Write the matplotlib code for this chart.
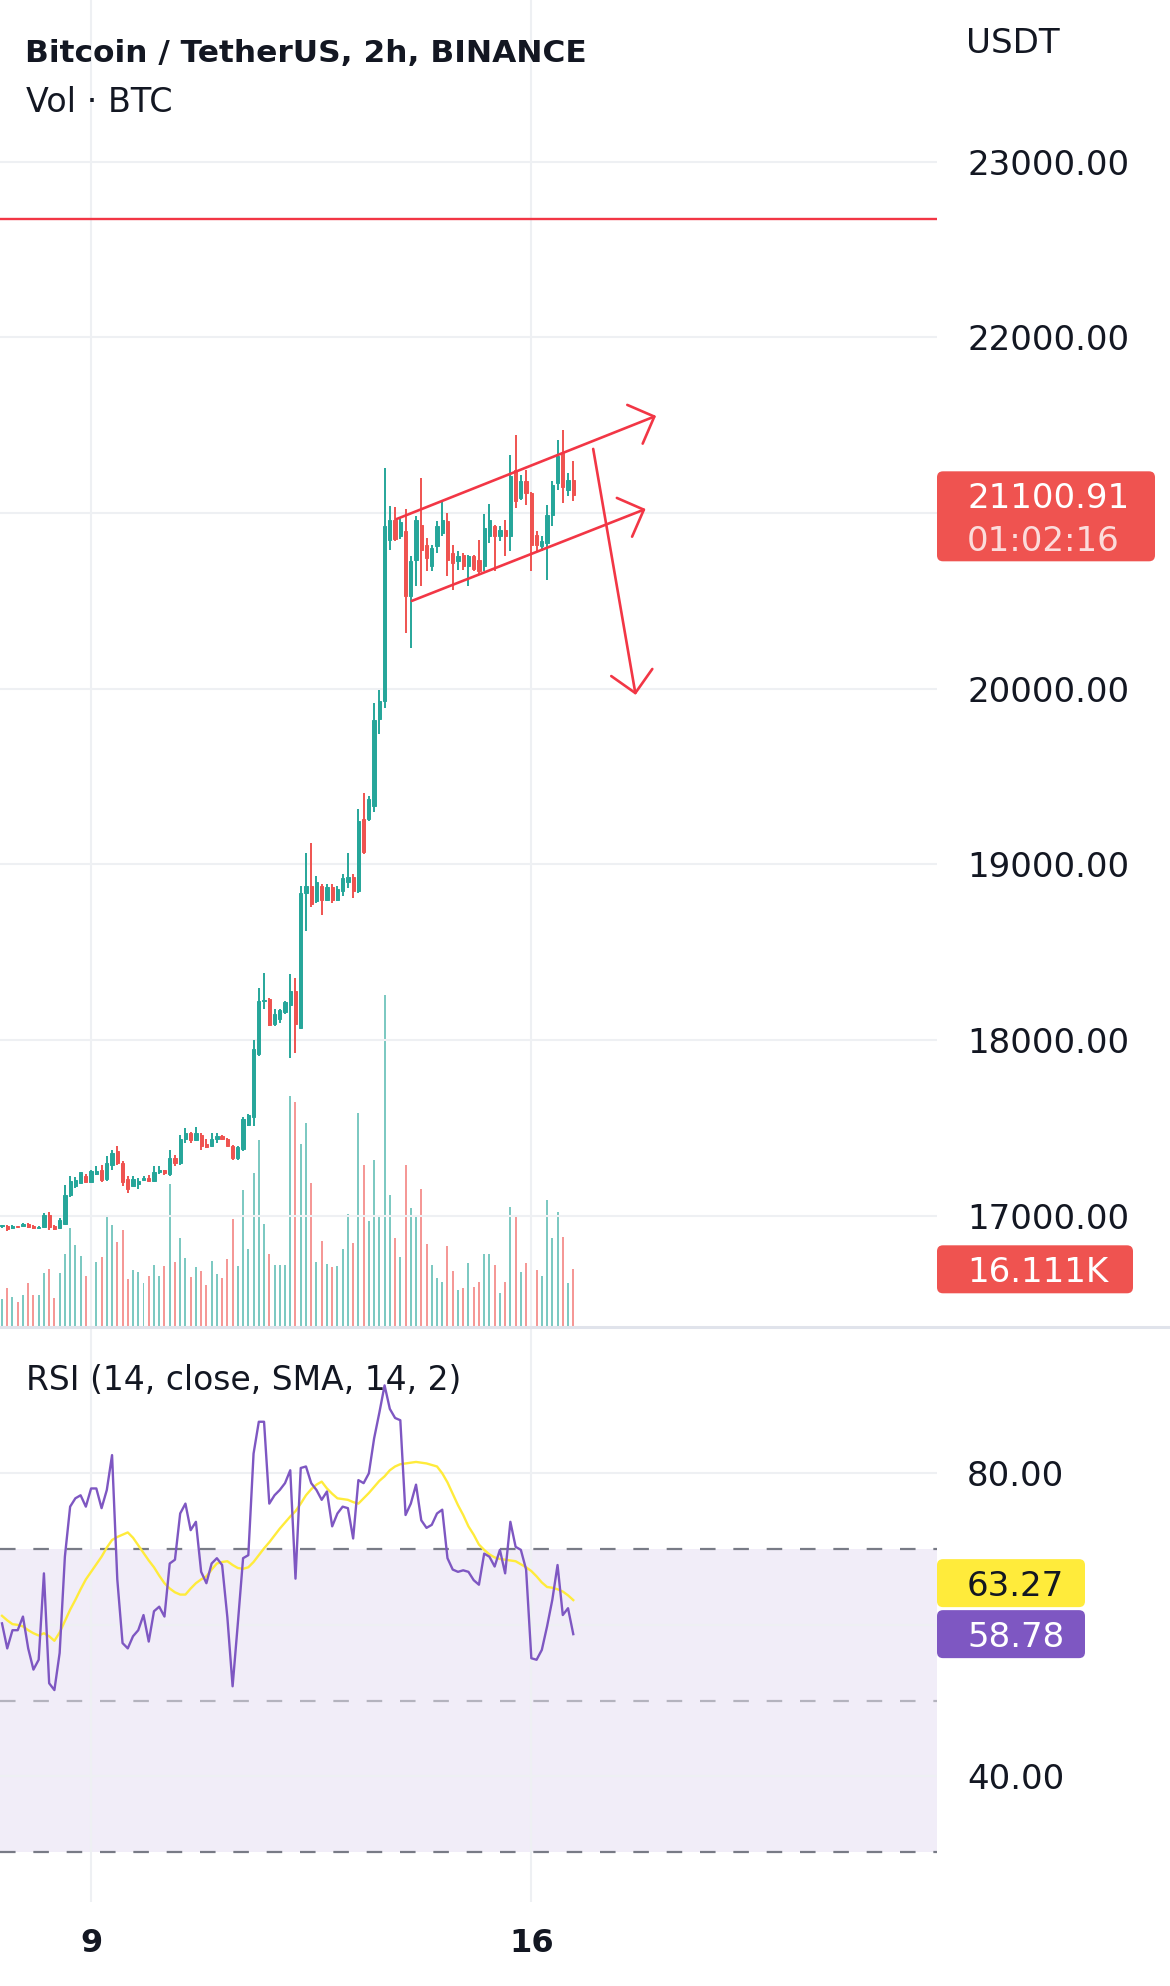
import numpy as np
import pandas as pd
import matplotlib
matplotlib.use("Agg")
import matplotlib.pyplot as plt
import matplotlib.dates as mdates
from matplotlib.patches import FancyBboxPatch
from matplotlib.lines import Line2D
from matplotlib.transforms import IdentityTransform

# ── Data: BTC/USDT 2h candles, 7 Jan 14:00 -> 16 Jan 16:00 ───────────────
times = pd.date_range("2023-01-07 14:00", periods=110, freq="2h")

opens = [
    16940, 16945, 16930, 16942, 16940, 16954, 16945, 16930, 16936, 17005,
    16943, 16930, 16955, 17120, 17170, 17185, 17225, 17195, 17240, 17260,
    17210, 17290, 17370, 17300, 17210, 17170, 17180, 17205, 17215, 17200,
    17250, 17260, 17240, 17330, 17300, 17440, 17470, 17430, 17460, 17410,
    17395, 17440, 17455, 17440, 17400, 17330, 17380, 17515, 17560, 17920,
    18220, 18232, 18090, 18120, 18160, 18200, 18280, 18070, 18840, 18880,
    18790, 18880, 18800, 18870, 18795, 18850, 18900, 18930, 18850, 19256,
    19256, 19330, 19830, 19930, 20848, 20960, 20870, 20896, 20526, 20734,
    20933, 20820, 20700, 20810, 20886, 20953, 20772, 20725, 20760, 20696,
    20753, 20735, 20696, 20867, 20924, 20867, 20905, 20867, 21246, 21085,
    21180, 21114, 20877, 20810, 20829, 20990, 21170, 21341, 21133, 21190,
]
highs = [
    16950, 16950, 16948, 16945, 16958, 16962, 16948, 16940, 17015, 17020,
    16948, 16987, 17176, 17224, 17220, 17252, 17240, 17262, 17281, 17290,
    17338, 17376, 17395, 17310, 17224, 17224, 17214, 17227, 17230, 17281,
    17281, 17262, 17376, 17347, 17461, 17499, 17480, 17508, 17470, 17440,
    17470, 17470, 17461, 17442, 17404, 17395, 17565, 17580, 18000, 18298,
    18383, 18241, 18175, 18175, 18222, 18374, 18355, 18877, 19063, 19123,
    18934, 18886, 18886, 18886, 18877, 18943, 19063, 18943, 19313, 19408,
    19390, 19918, 19994, 21256, 21042, 21034, 20970, 21023, 20753, 20981,
    21199, 20858, 20820, 20953, 21076, 21000, 20820, 20782, 20772, 20763,
    20763, 20848, 20994, 21053, 20934, 20924, 20962, 21332, 21446, 21218,
    21246, 21120, 20896, 20867, 21047, 21180, 21417, 21474, 21227, 21294,
]
lows = [
    16930, 16915, 16925, 16932, 16935, 16930, 16925, 16925, 16930, 16920,
    16920, 16926, 16950, 17110, 17160, 17180, 17185, 17190, 17232, 17195,
    17200, 17262, 17290, 17167, 17130, 17167, 17150, 17200, 17195, 17195,
    17240, 17235, 17224, 17281, 17290, 17414, 17414, 17425, 17376, 17385,
    17390, 17415, 17432, 17395, 17320, 17320, 17370, 17510, 17510, 17909,
    18175, 18080, 18080, 18100, 18150, 17900, 17928, 18061, 18621, 18760,
    18782, 18715, 18791, 18782, 18791, 18820, 18867, 18810, 18839, 19060,
    19250, 19300, 19740, 19890, 20791, 20840, 20850, 20317, 20232, 20583,
    20583, 20668, 20668, 20772, 20867, 20640, 20564, 20678, 20678, 20583,
    20668, 20649, 20668, 20829, 20668, 20839, 20753, 20782, 21028, 21076,
    21047, 20668, 20782, 20782, 20620, 20924, 21133, 21057, 21095, 21066,
]
closes = [
    16945, 16925, 16942, 16936, 16952, 16935, 16930, 16935, 17006, 16935,
    16925, 16975, 17120, 17200, 17205, 17250, 17190, 17255, 17255, 17205,
    17300, 17360, 17300, 17190, 17150, 17210, 17200, 17215, 17200, 17250,
    17260, 17245, 17330, 17300, 17440, 17470, 17430, 17470, 17400, 17390,
    17440, 17455, 17440, 17400, 17330, 17390, 17550, 17575, 17950, 18222,
    18230, 18085, 18146, 18170, 18215, 18280, 18090, 18840, 18880, 18772,
    18900, 18800, 18870, 18795, 18860, 18920, 18930, 18850, 19250, 19070,
    19370, 19820, 19930, 20924, 20962, 20850, 20950, 20526, 20725, 20962,
    20791, 20745, 20800, 20924, 20962, 20734, 20715, 20753, 20696, 20753,
    20680, 20668, 20915, 20962, 20867, 20905, 20867, 21209, 21066, 21180,
    21114, 20820, 20820, 20839, 20990, 21160, 21322, 21150, 21190, 21100.91,
]
volumes_k = [
    7.6, 10.7, 8.2, 6.8, 8.8, 12.1, 8.8, 8.8, 15.1, 16.1,
    7.9, 15.1, 20.4, 27.8, 23.0, 19.9, 14.2, 20.6, 18.2, 19.6,
    31.0, 28.7, 23.9, 27.3, 13.3, 15.8, 15.3, 12.3, 14.2, 17.3,
    14.2, 17.1, 40.4, 18.2, 25.1, 19.4, 13.9, 16.8, 15.6, 11.7,
    18.5, 14.9, 13.5, 18.9, 30.3, 17.1, 38.6, 21.8, 43.6, 52.8,
    28.9, 20.6, 17.3, 17.3, 17.3, 65.4, 63.7, 51.6, 57.7, 40.6,
    18.2, 24.2, 17.7, 16.9, 17.1, 22.0, 31.7, 23.7, 60.4, 45.8,
    29.8, 47.2, 31.0, 94.1, 37.2, 25.1, 19.6, 45.8, 33.6, 31.3,
    39.0, 23.2, 17.3, 13.7, 12.5, 22.7, 15.6, 10.2, 10.9, 17.8,
    11.1, 12.5, 20.4, 20.4, 17.3, 9.4, 12.5, 33.8, 31.3, 15.3,
    17.8, 33.6, 15.8, 14.2, 35.7, 25.1, 32.4, 25.3, 12.2, 16.111,
]
rsi = [
    60.2, 56.9, 59.3, 59.3, 61.1, 56.9, 54.1, 55.4, 66.8, 52.3,
    51.4, 56.3, 69.0, 75.6, 76.7, 77.1, 75.6, 78.0, 78.0, 75.4,
    77.8, 82.4, 66.0, 57.6, 56.9, 58.5, 59.3, 61.3, 57.8, 61.8,
    62.4, 61.1, 68.1, 68.6, 74.7, 76.0, 72.5, 73.6, 67.0, 65.5,
    68.1, 68.8, 67.9, 61.0, 51.9, 60.2, 68.8, 69.2, 82.6, 86.8,
    86.8, 76.0, 77.1, 77.8, 78.7, 80.4, 66.1, 80.7, 80.9, 78.7,
    77.8, 76.5, 77.6, 73.0, 74.7, 75.6, 75.4, 71.4, 79.1, 78.7,
    80.0, 84.6, 88.0, 91.6, 88.5, 87.3, 87.0, 74.5, 76.0, 78.5,
    73.8, 72.8, 73.2, 74.7, 75.2, 68.8, 67.3, 67.0, 67.2, 67.0,
    65.9, 65.3, 69.4, 69.0, 67.7, 69.9, 66.8, 73.6, 70.3, 69.9,
    67.3, 55.6, 55.4, 56.7, 59.8, 63.3, 67.9, 61.3, 62.2, 58.78,
]
rsi_sma = [
    61.2, 60.6, 60.1, 60.0, 59.8, 59.3, 58.9, 58.6, 58.9, 58.5,
    57.9, 59.0, 60.5, 62.0, 63.3, 64.7, 66.0, 67.0, 68.0, 69.0,
    70.2, 71.2, 71.6, 71.9, 72.2, 71.5, 70.5, 69.5, 68.5, 67.6,
    66.5, 65.5, 64.8, 64.3, 64.0, 64.0, 64.8, 65.5, 66.0, 66.4,
    67.3, 68.1, 68.3, 68.4, 67.9, 67.5, 67.4, 67.6, 68.3, 69.2,
    70.1, 70.9, 71.8, 72.7, 73.5, 74.3, 75.0, 76.0, 77.1, 77.9,
    78.5, 78.9, 78.0, 77.3, 76.7, 76.6, 76.5, 76.2, 76.0, 76.7,
    77.4, 78.2, 79.0, 79.6, 80.4, 80.9, 81.2, 81.3, 81.4, 81.5,
    81.4, 81.3, 81.1, 80.9, 80.0, 78.8, 77.3, 75.8, 74.5, 73.0,
    71.9, 70.6, 69.9, 69.3, 68.9, 68.7, 68.6, 68.5, 68.4, 68.0,
    67.6, 67.1, 66.4, 65.6, 65.0, 64.9, 64.7, 64.4, 63.9, 63.27,
]

price_ticks = [17000, 18000, 19000, 20000, 21000, 22000, 23000]
rsi_ticks = [40, 60, 80]
# tick labels that sit under the value boxes are not shown by the chart
hidden_price_labels = {21000}
hidden_rsi_labels = {60}
day_ticks = ["2023-01-09", "2023-01-16"]
day_labels = ["9", "16"]

resistance_price = 22675
# hand drawings: (candle offset, price) pairs
channel_top = [(75.3, 20966), (124.8, 21553)]
channel_bottom = [(78.2, 20500), (122.8, 21023)]
breakdown_arrow = [(112.8, 21365), (120.9, 19965)]
countdown = "01:02:16"

# ── Style ───────────────────────────────────────────────────────────────
UP, DOWN = "#26a69a", "#ef5350"
DRAW = "#f23645"
TEXT = "#131722"
GRID = "#eef0f3"
RSI_COL, SMA_COL = "#7e57c2", "#ffeb3b"
FS = 24.5
W, H = 1170, 1986
PLOT_R = 937  # right edge of plot area (px)

fig = plt.figure(figsize=(W / 100, H / 100), dpi=100)
ax = fig.add_axes([0, 1 - 1326 / H, PLOT_R / W, 1326 / H])
ax_vol = ax.twinx()
ax_rsi = fig.add_axes([0, 1 - 1902 / H, PLOT_R / W, (1902 - 1328) / H])
ax.set_zorder(ax_vol.get_zorder() + 1)
ax.patch.set_visible(False)

x = mdates.date2num(times)
step = 2 / 24
xlim = (x[0] - 0.38 * step, x[0] + 178.4 * step)

o, h, l, c = map(np.asarray, (opens, highs, lows, closes))
up = c >= o
cols = np.where(up, UP, DOWN)

# ── Volume (overlay) ────────────────────────────────────────────────────
ax_vol.bar(x, volumes_k, width=step * 0.38, color=cols, alpha=0.6, linewidth=0)
ax_vol.set_ylim(0, 376.8)
ax_vol.set_axis_off()

# ── Candles ─────────────────────────────────────────────────────────────
ax.vlines(x, l, h, colors=cols, lw=1.4, zorder=3)
ax.bar(x, np.maximum(np.abs(c - o), 8), bottom=np.minimum(o, c),
       width=step * 0.62, color=cols, edgecolor=cols, linewidth=0.7, zorder=4)

ax.axhline(resistance_price, color=DRAW, lw=1.7, zorder=5)


def at(offset):
    return x[0] + offset * step


for (s, e) in (channel_top, channel_bottom, breakdown_arrow):
    ax.annotate("", xy=(at(e[0]), e[1]), xytext=(at(s[0]), s[1]),
                arrowprops=dict(arrowstyle="->,head_length=0.75,head_width=0.75",
                                color=DRAW, lw=1.9, shrinkA=0, shrinkB=0,
                                mutation_scale=20), zorder=6)

ax.set_xlim(*xlim)
ax.set_ylim(16373, 23920)
ax.set_yticks(price_ticks)
ax.set_yticklabels(["" if v in hidden_price_labels else f"{v:.2f}" for v in price_ticks])
day_x = mdates.date2num(pd.to_datetime(day_ticks))
ax.set_xticks(day_x)
ax.tick_params(axis="x", length=0, labelbottom=False)
ax.yaxis.tick_right()
ax.tick_params(axis="y", length=0, pad=21.6, labelsize=FS, labelcolor=TEXT)
ax.grid(True, color=GRID, lw=1.5, zorder=0)
for sp in ax.spines.values():
    sp.set_visible(False)

# ── RSI pane ────────────────────────────────────────────────────────────
ax_rsi.axhspan(30, 70, color=RSI_COL, alpha=0.1, lw=0)
ax_rsi.axhline(70, color="#787b86", lw=1.6, ls=(0, (7, 8)))
ax_rsi.axhline(30, color="#787b86", lw=1.6, ls=(0, (7, 8)))
ax_rsi.axhline(50, color="#787b86", alpha=0.5, lw=1.6, ls=(0, (7, 8)))
ax_rsi.plot(x, rsi_sma, color=SMA_COL, lw=1.7, zorder=3)
ax_rsi.plot(x, rsi, color=RSI_COL, lw=1.7, zorder=4)
ax_rsi.set_xlim(*xlim)
ax_rsi.set_ylim(23.44, 99.17)
ax_rsi.set_yticks(rsi_ticks)
ax_rsi.set_yticklabels(["" if v in hidden_rsi_labels else f"{v:.2f}" for v in rsi_ticks])
ax_rsi.set_xticks(day_x)
ax_rsi.set_xticklabels(day_labels, fontweight="bold")
ax_rsi.yaxis.tick_right()
ax_rsi.tick_params(axis="y", length=0, pad=21.6, labelsize=FS, labelcolor=TEXT)
ax_rsi.tick_params(axis="x", length=0, pad=19, labelsize=23, labelcolor=TEXT)
ax_rsi.grid(True, color=GRID, lw=1.5, zorder=0)
for sp in ax_rsi.spines.values():
    sp.set_visible(False)

# pane separator
fig.add_artist(Line2D([0, W], [H - 1327, H - 1327], transform=IdentityTransform(),
                      color="#e0e3eb", lw=2.2, zorder=8))

# ── Legends / titles ────────────────────────────────────────────────────
px = IdentityTransform()
fig.text(25, H - 62, "Bitcoin / TetherUS, 2h, BINANCE", transform=px,
         fontsize=22.5, fontweight="bold", color=TEXT, va="baseline")
fig.text(26, H - 112, "Vol · BTC", transform=px, fontsize=24, color=TEXT, va="baseline")
fig.text(966, H - 53, "USDT", transform=px, fontsize=FS, color=TEXT, va="baseline")
fig.text(26, H - 1390, "RSI (14, close, SMA, 14, 2)", transform=px, fontsize=23.8,
         color=TEXT, va="baseline")


# ── Right-hand value labels ─────────────────────────────────────────────
def y_px(axis, value):
    return axis.transData.transform((x[0], value))[1]


def side_label(yc, lines, face, colors, right):
    top = yc + 24
    bottom = yc - 24 - 42 * (len(lines) - 1)
    fig.add_artist(FancyBboxPatch((PLOT_R, bottom), right - PLOT_R, top - bottom,
                                  boxstyle="round,pad=0,rounding_size=6",
                                  transform=px, fc=face, ec="none", zorder=10))
    for k, (s, col) in enumerate(zip(lines, colors)):
        fig.text(PLOT_R + 30, yc - 43 * k, s, transform=px, fontsize=FS,
                 color=col, va="center_baseline", zorder=11)


y_last = y_px(ax, closes[-1])
side_label(y_last, [f"{closes[-1]:.2f}", countdown], DOWN,
           ["white", (1, 1, 1, 0.8)], 1155)
side_label(y_px(ax_vol, volumes_k[-1]), [f"{volumes_k[-1]:.3f}K"], DOWN, ["white"], 1133)
y_r = y_px(ax_rsi, rsi[-1])
y_s = max(y_px(ax_rsi, rsi_sma[-1]), y_r + 51)
side_label(y_s, [f"{rsi_sma[-1]:.2f}"], SMA_COL, [TEXT], 1085)
side_label(y_r, [f"{rsi[-1]:.2f}"], RSI_COL, ["white"], 1085)

fig.savefig("out.png", dpi=100, facecolor="white")
